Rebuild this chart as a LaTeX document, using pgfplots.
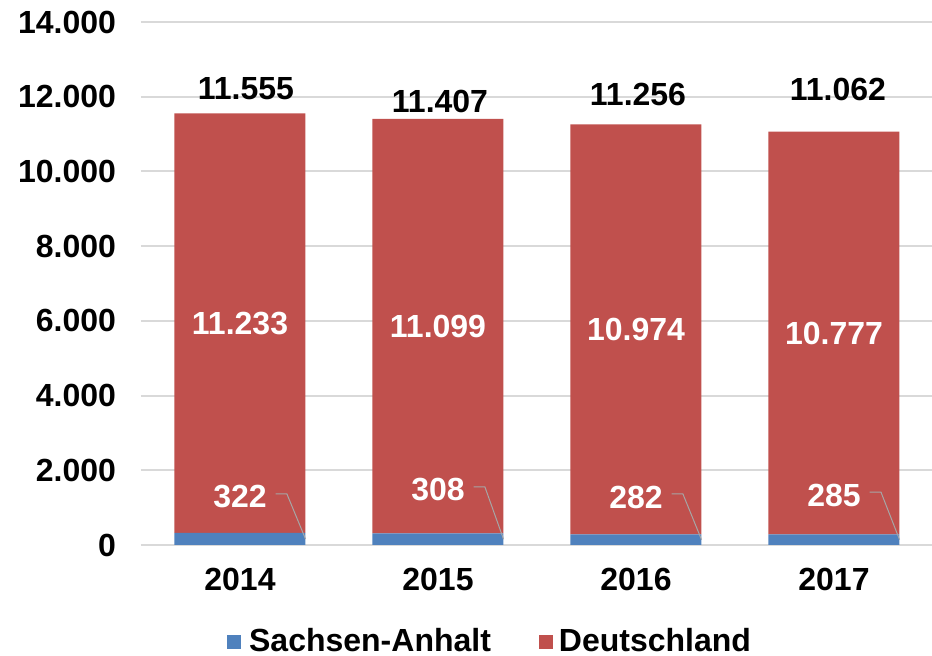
\documentclass[border=0pt]{standalone}
\usepackage{pgfplots}
\pgfplotsset{compat=1.18}
\usepackage{fontspec}
\setmainfont{Liberation Sans}
\definecolor{saBlue}{HTML}{4F81BD}
\definecolor{deRed}{HTML}{C0504D}
\definecolor{gridGray}{HTML}{D9D9D9}
\definecolor{leadGray}{HTML}{A6A6A6}
\newcommand{\lblfont}{\fontsize{16}{19}\selectfont\bfseries}

\begin{document}
\begin{tikzpicture}
\begin{axis}[
    at={(70.5pt,55.5pt)}, anchor=south west,
    scale only axis, width=396pt, height=261.5pt,
    ybar stacked, bar width=65.5pt,
    xmin=-0.5, xmax=3.5, ymin=0, ymax=14000,
    xtick=data, xticklabels={2014,2015,2016,2017},
    ytick={0,2000,...,14000},
    yticklabels={0,2.000,4.000,6.000,8.000,10.000,12.000,14.000},
    scaled y ticks=false,
    ymajorgrids, grid style={gridGray, line width=1pt},
    axis line style={draw=none},
    major tick length=0pt,
    tick label style={font=\lblfont},
    xticklabel style={yshift=-8pt},
    yticklabel style={xshift=-9pt},
    legend style={at={(0.442,-0.185)}, anchor=center, draw=none,
        font=\lblfont, legend columns=2,
        /tikz/every even column/.append style={column sep=22pt}},
    legend image code/.code={\fill[#1] (0pt,-3.5pt) rectangle (7pt,3.5pt);},
    clip=false
]
\addplot[fill=saBlue, draw=none] coordinates {(0,322)(1,308)(2,282)(3,285)};
\addplot[fill=deRed, draw=none] coordinates {(0,11233)(1,11099)(2,10974)(3,10777)};
\legend{\hspace{2pt}Sachsen-Anhalt, \hspace{1pt}Deutschland}

% anchor points for the labels, drawn after the axis
\coordinate (m0) at (axis cs:0,5938);
\coordinate (m1) at (axis cs:1,5858);
\coordinate (m2) at (axis cs:2,5769);
\coordinate (m3) at (axis cs:3,5673);
\coordinate (t0) at (axis cs:0.03,12206);
\coordinate (t1) at (axis cs:1.01,11885);
\coordinate (t2) at (axis cs:2.01,12046);
\coordinate (t3) at (axis cs:3.02,12206);
\coordinate (s0) at (axis cs:0,1285);
\coordinate (s1) at (axis cs:1,1472);
\coordinate (s2) at (axis cs:2,1285);
\coordinate (s3) at (axis cs:3,1338);
\coordinate (la0) at (axis cs:0.18,1365);
\coordinate (lb0) at (axis cs:0.237,1365);
\coordinate (lc0) at (axis cs:0.331,160);
\coordinate (la1) at (axis cs:1.18,1553);
\coordinate (lb1) at (axis cs:1.237,1553);
\coordinate (lc1) at (axis cs:1.331,154);
\coordinate (la2) at (axis cs:2.18,1365);
\coordinate (lb2) at (axis cs:2.237,1365);
\coordinate (lc2) at (axis cs:2.331,141);
\coordinate (la3) at (axis cs:3.18,1418);
\coordinate (lb3) at (axis cs:3.237,1418);
\coordinate (lc3) at (axis cs:3.331,143);
\end{axis}

\node[white, font=\lblfont] at (m0) {11.233};
\node[white, font=\lblfont] at (m1) {11.099};
\node[white, font=\lblfont] at (m2) {10.974};
\node[white, font=\lblfont] at (m3) {10.777};

\node[black, font=\lblfont] at (t0) {11.555};
\node[black, font=\lblfont] at (t1) {11.407};
\node[black, font=\lblfont] at (t2) {11.256};
\node[black, font=\lblfont] at (t3) {11.062};

\node[white, font=\lblfont] at (s0) {322};
\node[white, font=\lblfont] at (s1) {308};
\node[white, font=\lblfont] at (s2) {282};
\node[white, font=\lblfont] at (s3) {285};
\foreach \i in {0,...,3}
  \draw[leadGray, line width=0.5pt] (la\i) -- (lb\i) -- (lc\i);

\pgfresetboundingbox
\path (0pt,0pt) rectangle (466pt,328pt);
\end{tikzpicture}
\end{document}
